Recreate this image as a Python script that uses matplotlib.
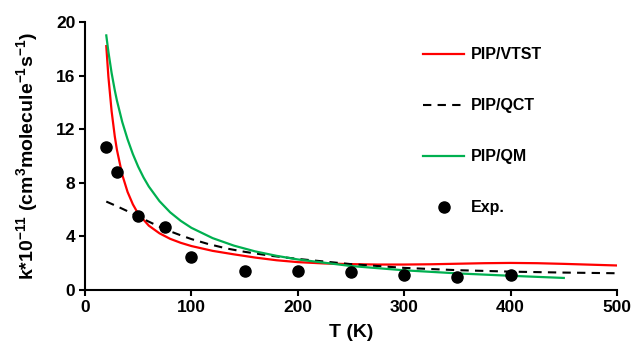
import matplotlib
matplotlib.use("Agg")
import matplotlib.pyplot as plt

plt.rcParams['font.family'] = ['Liberation Sans', 'DejaVu Sans']
plt.rcParams['font.weight'] = 'bold'
plt.rcParams['mathtext.fontset'] = 'custom'
plt.rcParams['mathtext.rm'] = 'Liberation Sans:bold'
plt.rcParams['mathtext.bf'] = 'Liberation Sans:bold'
plt.rcParams['mathtext.default'] = 'bf'

# PIP/VTST rate coefficients
t_vtst = [20, 22, 25, 28, 30, 35, 40, 45, 50, 60, 70, 80, 90, 100, 120, 140, 160, 180, 200,
          225, 250, 275, 300, 325, 350, 375, 400, 425, 450, 475, 500]
k_vtst = [18.2, 15.9, 13.35, 11.46, 10.46, 8.6, 7.32, 6.39, 5.69, 4.8, 4.23, 3.82, 3.52, 3.28,
          2.92, 2.66, 2.42, 2.22, 2.08, 1.98, 1.93, 1.9, 1.9, 1.92, 1.96, 2.0, 2.02, 2.0, 1.95,
          1.89, 1.83]

# PIP/QCT rate coefficients
t_qct = [20, 30, 40, 50, 60, 70, 80, 90, 100, 115, 133, 150, 175, 200, 250, 300, 350, 400, 450, 500]
k_qct = [6.6, 6.25, 5.88, 5.5, 5.1, 4.72, 4.38, 4.08, 3.8, 3.45, 3.1, 2.85, 2.55, 2.32, 1.93,
         1.65, 1.48, 1.37, 1.3, 1.25]

# PIP/QM rate coefficients
t_qm = [20, 22, 25, 28, 30, 35, 40, 45, 50, 55, 60, 70, 80, 90, 100, 120, 140, 160, 180, 200,
        250, 300, 350, 400, 450]
k_qm = [19.0, 17.77, 16.2, 14.9, 14.14, 12.54, 11.25, 10.14, 9.2, 8.4, 7.72, 6.63, 5.8, 5.16,
        4.64, 3.87, 3.31, 2.88, 2.55, 2.28, 1.79, 1.47, 1.24, 1.06, 0.9]

# Experimental values
t_exp = [20, 30, 50, 75, 100, 150, 200, 250, 300, 350, 400]
k_exp = [10.7, 8.8, 5.5, 4.7, 2.5, 1.45, 1.4, 1.35, 1.1, 1.0, 1.1]

x_ticks = [0, 100, 200, 300, 400, 500]
y_ticks = [0, 4, 8, 12, 16, 20]

fig = plt.figure(figsize=(6.35, 3.5), dpi=100)
ax = fig.add_axes([85 / 635, 1 - 290 / 350, 532 / 635, 268 / 350])

ax.plot(t_vtst, k_vtst, color='#FF0000', lw=1.6, label='PIP/VTST')
ax.plot(t_qct, k_qct, color='black', lw=1.5, linestyle=(0, (4, 3)), label='PIP/QCT')
ax.plot(t_qm, k_qm, color='#00B050', lw=1.6, label='PIP/QM')
ax.plot(t_exp, k_exp, 'o', color='black', ms=8, label='Exp.')

ax.set_xlim(0, 500)
ax.set_ylim(0, 20)
ax.set_xticks(x_ticks)
ax.set_yticks(y_ticks)
for s in ['top', 'right']:
    ax.spines[s].set_visible(False)
for s in ['left', 'bottom']:
    ax.spines[s].set_linewidth(1.5)
ax.tick_params(width=1.5, length=4, labelsize=12.5, direction='out', pad=3)
for lab in ax.get_xticklabels() + ax.get_yticklabels():
    lab.set_fontweight('bold')

ax.set_xlabel('T (K)', fontsize=14, fontweight='bold', labelpad=7)
ax.set_ylabel(r'k*10$^{-11}$ (cm$^{3}$molecule$^{-1}$s$^{-1}$)',
              fontsize=14, fontweight='bold', labelpad=11)

leg = ax.legend(loc='upper left', bbox_to_anchor=(0.62, 0.935), frameon=False,
                borderpad=0, labelspacing=2.25, handlelength=2.6,
                handletextpad=0.4, numpoints=1,
                prop={'weight': 'bold', 'size': 11.5})

fig.savefig('out.png', dpi=100)
